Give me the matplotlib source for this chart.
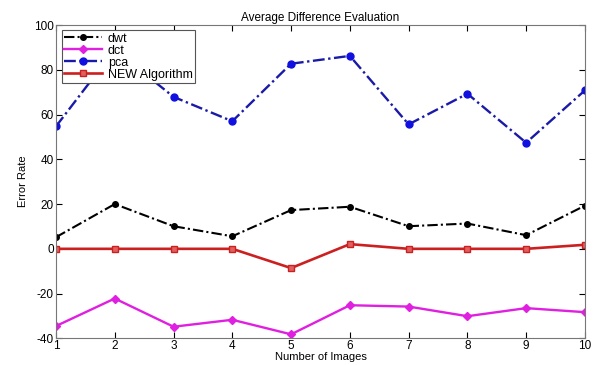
import matplotlib
matplotlib.use("Agg")
import matplotlib.pyplot as plt

plt.rcParams["font.family"] = ["Liberation Sans", "DejaVu Sans"]
plt.rcParams["axes.unicode_minus"] = False

images = [1, 2, 3, 4, 5, 6, 7, 8, 9, 10]
dwt = [5.2, 20.0, 10.1, 5.6, 17.3, 18.8, 10.1, 11.3, 6.1, 19.3]
dct = [-34.5, -22.2, -34.8, -31.7, -38.2, -25.2, -25.8, -30.1, -26.5, -28.3]
pca = [54.7, 89.0, 67.9, 57.0, 82.7, 86.2, 55.6, 69.3, 47.4, 70.8]
new_alg = [0, 0, 0, 0, -8.6, 2.1, 0, 0, 0, 1.8]

fig = plt.figure(figsize=(5.93, 3.65), dpi=100)
ax = fig.add_axes([0.0944, 0.073, 0.892, 0.8585])

dashdot = (5, 1.5, 1, 1.5)
ax.plot(images, dwt, color="black", linestyle=(0, dashdot), linewidth=1.5, marker="o",
        markersize=4, markerfacecolor="black", label="dwt")
ax.plot(images, dct, color="#e020e0", linestyle="-", linewidth=1.7, marker="D",
        markersize=4.5, label="dct")
ax.plot(images, pca, color="#1a1aa8", linestyle=(0, dashdot), linewidth=1.7, marker="o",
        markersize=5, markerfacecolor="#1010e0", markeredgecolor="#1010e0", label="pca")
ax.plot(images, new_alg, color="#cc2020", linestyle="-", linewidth=1.9, marker="s",
        markersize=5, markerfacecolor="#e06060", label="NEW Algorithm")

ax.set_xlim(1, 10)
ax.set_ylim(-40, 100)
ax.set_xticks(images)
ax.set_yticks(range(-40, 101, 20))
ax.tick_params(direction="in", top=True, right=True, labelsize=8.5, length=4, pad=1.5)
for s in ax.spines.values():
    s.set_color("#777777")
    s.set_linewidth(0.8)

ax.set_title("Average Difference Evaluation", fontsize=8.5, pad=3)
ax.set_xlabel("Number of Images", fontsize=8, labelpad=0)
ax.set_ylabel("Error Rate", fontsize=8, labelpad=4)

leg = ax.legend(loc="upper left", fontsize=9, handlelength=3.0, borderpad=0.2,
                labelspacing=0.0, handletextpad=0.5, fancybox=False, framealpha=1,
                bbox_to_anchor=(-0.001, 1.003))
leg.get_frame().set_edgecolor("#555555")
leg.get_frame().set_linewidth(0.8)

fig.savefig("out.png", dpi=100)
